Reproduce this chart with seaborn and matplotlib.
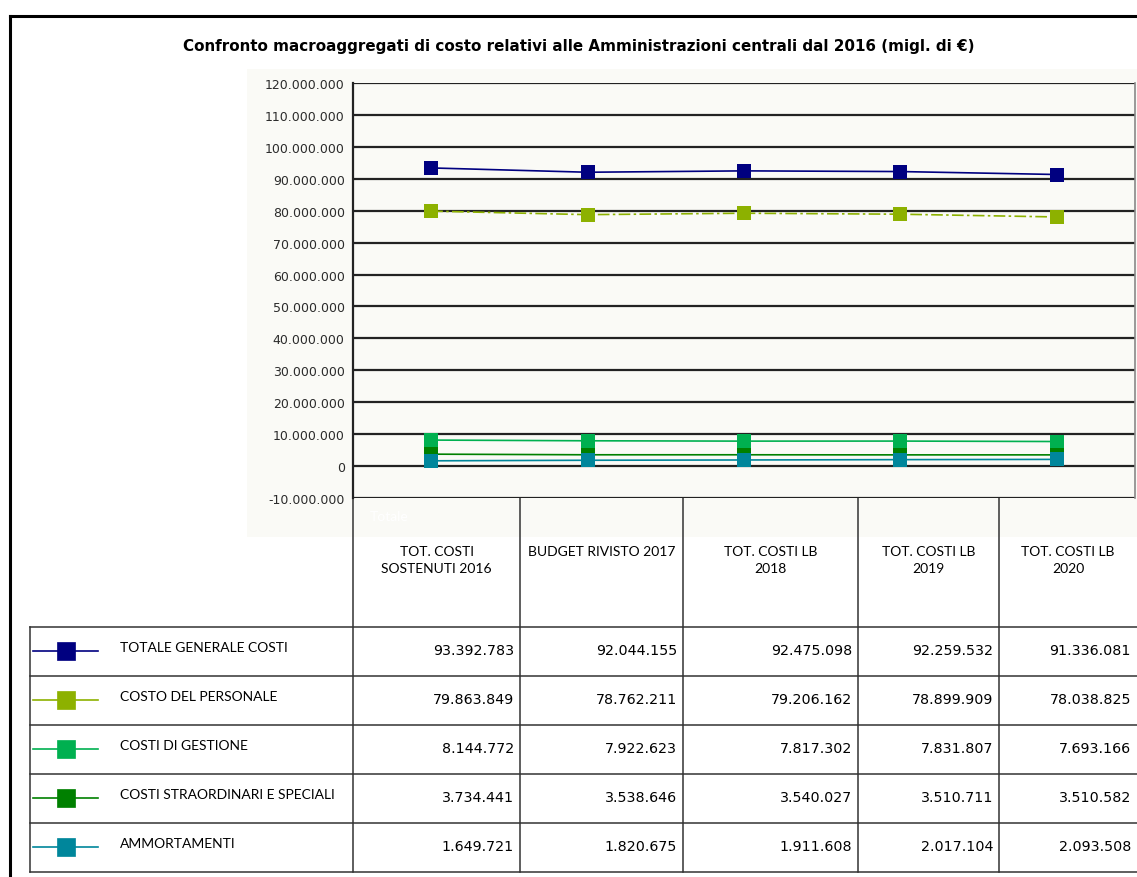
import matplotlib.pyplot as plt
import pandas as pd
import seaborn as sns
from matplotlib.lines import Line2D
from matplotlib.patches import Rectangle
from matplotlib.ticker import FuncFormatter

categories = ['TOT. COSTI\nSOSTENUTI 2016', 'BUDGET RIVISTO 2017', 'TOT. COSTI LB\n2018',
              'TOT. COSTI LB\n2019', 'TOT. COSTI LB\n2020']
series_names = ['TOTALE GENERALE COSTI', 'COSTO DEL PERSONALE', 'COSTI DI GESTIONE',
                'COSTI STRAORDINARI E SPECIALI', 'AMMORTAMENTI']
totale = [93392783, 92044155, 92475098, 92259532, 91336081]
personale = [79863849, 78762211, 79206162, 78899909, 78038825]
gestione = [8144772, 7922623, 7817302, 7831807, 7693166]
straordinari = [3734441, 3538646, 3540027, 3510711, 3510582]
ammortamenti = [1649721, 1820675, 1911608, 2017104, 2093508]
y_ticks = list(range(-10000000, 120000001, 10000000))

colors = ['#000080', '#8db100', '#00b050', '#008000', '#00869b']
values = [totale, personale, gestione, straordinari, ammortamenti]

df = pd.DataFrame({
    'serie': [s for s in series_names for _ in categories],
    'pos': [i for _ in series_names for i in range(len(categories))],
    'value': [v for vals in values for v in vals],
})


def fmt(v):
    return '{:,.0f}'.format(v).replace(',', '.')


W, H = 1137, 878
fig = plt.figure(figsize=(W / 100, H / 100), dpi=100)
bg = '#fafaf6'

# overlay in pixel coordinates for frame and table
ov = fig.add_axes([0, 0, 1, 1], zorder=0)
ov.set_xlim(0, W)
ov.set_ylim(H, 0)
ov.axis('off')
ov.add_patch(Rectangle((247, 70), W - 247, 468, color=bg, lw=0))
ov.plot([10, 10], [17, H], color='black', lw=2.2)
ov.plot([10, W], [17, 17], color='black', lw=2.2)

ov.text(579, 47, 'Confronto macroaggregati di costo relativi alle Amministrazioni centrali dal 2016 (migl. di €)',
        ha='center', va='center', fontsize=10.9, fontweight='bold', family='DejaVu Sans')

# chart
ax = fig.add_axes([353 / W, 1 - 499 / H, 782 / W, 415 / H], zorder=2)
ax.set_facecolor(bg)
sns.lineplot(data=df, x='pos', y='value', hue='serie', style='serie', hue_order=series_names,
             style_order=series_names, palette=dict(zip(series_names, colors)),
             markers={s: 's' for s in series_names},
             dashes={s: ((7, 2, 1.5, 2) if s == 'COSTO DEL PERSONALE' else '') for s in series_names},
             markersize=10.5, markeredgewidth=0, linewidth=1.2, legend=False, ax=ax)
ax.set_xlim(-0.5, len(categories) - 0.5)
ax.set_ylim(y_ticks[0], y_ticks[-1])
ax.set_yticks(y_ticks)
ax.yaxis.set_major_formatter(FuncFormatter(lambda v, p: fmt(v)))
ax.set_xticks([])
ax.set_xlabel('')
ax.set_ylabel('')
for t in y_ticks:
    ax.axhline(t, color='#222222', lw=1.6, zorder=0)
ax.tick_params(axis='y', length=0, pad=6, labelsize=9, labelcolor='#2b2b2b')
for s in ['top', 'bottom']:
    ax.spines[s].set_visible(False)
ax.spines['left'].set_color('#222222')
ax.spines['left'].set_linewidth(1.6)
ax.spines['right'].set_color('#888888')
ax.spines['right'].set_linewidth(1.2)

# table
col_edges = [353, 520, 683, 858, 999, W]
head_top, head_bot, row_h = 499, 628, 49
line_kw = dict(color='#333333', lw=1.1)
ov.text(370, 517, 'Totale', color='white', fontsize=10, va='center', family='Lato')
for x in col_edges[1:-1]:
    ov.plot([x, x], [head_top, head_bot + row_h * 5], **line_kw)
ov.plot([353, 353], [head_top, head_bot + row_h * 5], **line_kw)
ov.plot([30, 30], [head_bot, head_bot + row_h * 5], **line_kw)
for i in range(6):
    y = head_bot + i * row_h
    ov.plot([30, W], [y, y], **line_kw)
for i, cat in enumerate(categories):
    cx = (col_edges[i] + col_edges[i + 1]) / 2
    ov.text(cx, 546, cat, ha='center', va='top', fontsize=10, family='Lato', linespacing=1.55)
for r, (name, col, vals) in enumerate(zip(series_names, colors, values)):
    yc = head_bot + r * row_h + 24
    ov.add_line(Line2D([33, 98], [yc, yc], color=col, lw=1.2))
    ov.add_line(Line2D([66], [yc], marker='s', markersize=13, color=col,
                       markeredgecolor=col, markeredgewidth=0.5))
    ov.text(120, yc - 4, name, va='center', fontsize=10, family='Lato')
    for i, v in enumerate(vals):
        ov.text(col_edges[i + 1] - 6, yc - 1, fmt(v), ha='right', va='center',
                fontsize=10.3, family='DejaVu Sans')

fig.savefig('out.png', dpi=100)
